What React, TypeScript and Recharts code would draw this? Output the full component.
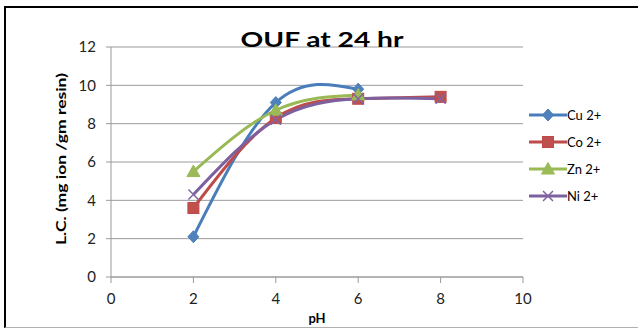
import { LineChart, Line, XAxis, YAxis, CartesianGrid, Legend } from 'recharts';

// pH values tested and metal uptake (L.C.) read per ion
const PH = [2, 4, 6, 8];
const CU = [2.1, 9.1, 9.8, null];
const CO = [3.6, 8.3, 9.3, 9.4];
const ZN = [5.5, 8.7, 9.5, null];
const NI = [4.3, 8.2, 9.3, 9.3];

const X_TICKS = [0, 2, 4, 6, 8, 10];
const Y_TICKS = [0, 2, 4, 6, 8, 10, 12];

type Shape = 'diamond' | 'square' | 'triangle' | 'cross';

const SERIES: { key: string; name: string; line: string; fill: string; shape: Shape }[] = [
  { key: 'cu', name: 'Cu 2+', line: '#4A7EBB', fill: '#4F81BD', shape: 'diamond' },
  { key: 'co', name: 'Co 2+', line: '#BE4B48', fill: '#C0504D', shape: 'square' },
  { key: 'zn', name: 'Zn 2+', line: '#98B954', fill: '#9BBB59', shape: 'triangle' },
  { key: 'ni', name: 'Ni 2+', line: '#7D60A0', fill: '#8064A2', shape: 'cross' },
];

const rows = PH.map((ph, i) => ({ ph, cu: CU[i], co: CO[i], zn: ZN[i], ni: NI[i] }));

const FONT = 'Lato, "Liberation Sans", sans-serif';
const GRID = '#9a9a9a';
const LEGEND_W = 100;

function Marker({ shape, cx, cy, fill, stroke }: { shape: Shape; cx: number; cy: number; fill: string; stroke: string }) {
  if (shape === 'diamond') {
    return <path d={`M${cx},${cy - 6}L${cx + 5.5},${cy}L${cx},${cy + 6}L${cx - 5.5},${cy}Z`} fill={fill} stroke={stroke} />;
  }
  if (shape === 'square') {
    return <rect x={cx - 5.5} y={cy - 5.5} width={11} height={11} fill={fill} stroke={stroke} />;
  }
  if (shape === 'triangle') {
    return <path d={`M${cx},${cy - 6.5}L${cx + 6.5},${cy + 5}L${cx - 6.5},${cy + 5}Z`} fill={fill} stroke={stroke} />;
  }
  return (
    <path
      d={`M${cx - 5},${cy - 5}L${cx + 5},${cy + 5}M${cx - 5},${cy + 5}L${cx + 5},${cy - 5}`}
      stroke={fill}
      strokeWidth={1.5}
      fill="none"
    />
  );
}

function LegendBox() {
  return (
    <div style={{ fontFamily: FONT, fontSize: 13, color: '#000' }}>
      {SERIES.map((s) => (
        <div key={s.key} style={{ display: 'flex', alignItems: 'center', height: 27 }}>
          <svg width={38} height={14} style={{ marginRight: 0 }}>
            <line x1={0} y1={7} x2={38} y2={7} stroke={s.line} strokeWidth={3} />
            <Marker shape={s.shape} cx={19} cy={7} fill={s.fill} stroke={s.line} />
          </svg>
          <span>{s.name}</span>
        </div>
      ))}
    </div>
  );
}

export default function App() {
  return (
    <div style={{ position: 'absolute', left: 0, top: 0, width: 638, height: 329, background: '#fff', overflow: 'hidden' }}>
      <div
        style={{
          position: 'absolute',
          left: 4,
          top: 6,
          width: 640,
          height: 319,
          borderLeft: '2px solid #000',
          borderTop: '2px solid #000',
          borderBottom: '1px solid #b0b0b0',
        }}
      />
      <LineChart
        width={638}
        height={329}
        data={rows}
        // the vertical legend reserves its own width on the right
        margin={{ top: 47, right: 115 - LEGEND_W, bottom: 22, left: 50 }}
        style={{ position: 'absolute', left: 0, top: 0 }}
      >
        <CartesianGrid vertical={false} stroke={GRID} strokeWidth={1} />
        <XAxis
          dataKey="ph"
          type="number"
          domain={[0, 10]}
          ticks={X_TICKS}
          height={30}
          stroke={GRID}
          tickSize={6}
          tickMargin={10}
          tick={{ fill: '#222', fontSize: 15, fontFamily: FONT }}
        />
        <YAxis
          type="number"
          domain={[0, 12]}
          ticks={Y_TICKS}
          width={61}
          stroke={GRID}
          tickSize={5}
          tickMargin={10}
          tick={{ fill: '#222', fontSize: 15, fontFamily: FONT }}
        />
        <Legend
          layout="vertical"
          align="right"
          verticalAlign="top"
          width={LEGEND_W}
          wrapperStyle={{ position: 'absolute', left: 529, top: 101, width: LEGEND_W }}
          content={() => <LegendBox />}
        />
        {SERIES.map((s) => (
          <Line
            key={s.key}
            dataKey={s.key}
            name={s.name}
            type="natural"
            stroke={s.line}
            strokeWidth={3}
            isAnimationActive={false}
            dot={(p: any) =>
              p.cy == null ? (
                <g key={`${s.key}-${p.index}`} />
              ) : (
                <Marker key={`${s.key}-${p.index}`} shape={s.shape} cx={p.cx} cy={p.cy} fill={s.fill} stroke={s.line} />
              )
            }
            activeDot={false}
          />
        ))}
      </LineChart>
      <svg width={638} height={329} style={{ position: 'absolute', left: 0, top: 0, pointerEvents: 'none' }}>
        <text
          x={322}
          y={47}
          textAnchor="middle"
          fontFamily={FONT}
          fontWeight="bold"
          fontSize={21}
          textLength={163}
          lengthAdjust="spacingAndGlyphs"
          fill="#000"
        >
          OUF at 24 hr
        </text>
        <text
          transform="translate(66,159) rotate(-90)"
          textAnchor="middle"
          fontFamily={FONT}
          fontWeight="bold"
          fontSize={13}
          textLength={172}
          lengthAdjust="spacingAndGlyphs"
          fill="#000"
        >
          L.C. (mg ion /gm resin)
        </text>
        <text x={317} y={323} textAnchor="middle" fontFamily={FONT} fontWeight="bold" fontSize={13} fill="#000">
          pH
        </text>
      </svg>
    </div>
  );
}
